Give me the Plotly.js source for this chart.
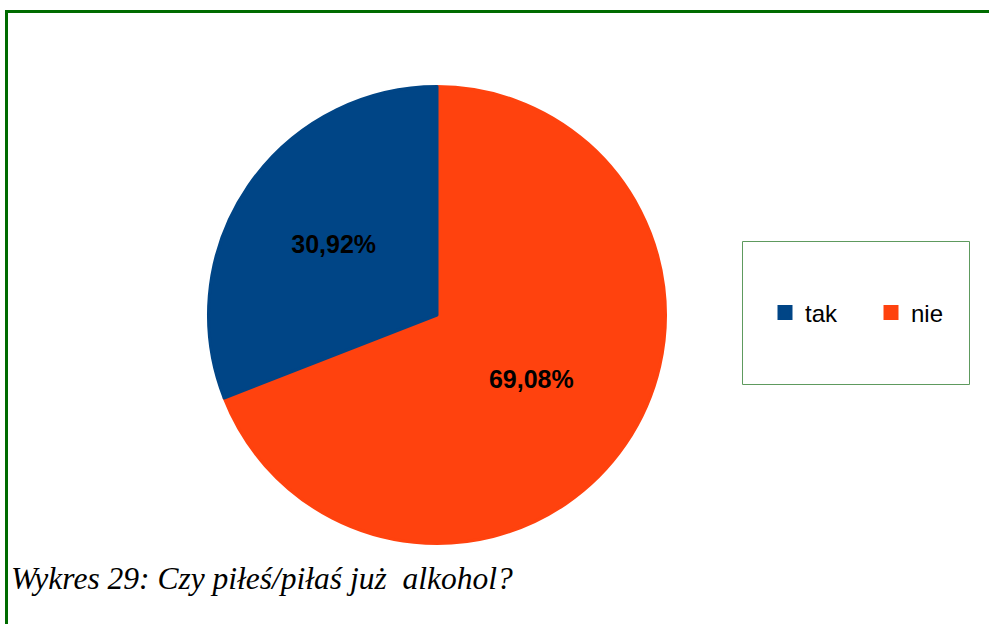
<!DOCTYPE html>
<html>
<head>
<meta charset="utf-8">
<script src="https://cdn.plot.ly/plotly-3.0.1.min.js"></script>
<style>html,body{margin:0;padding:0;background:#fff;overflow:hidden;width:989px;height:624px;}#chart{width:989px;height:624px;}</style>
</head>
<body>
<div id="chart"></div>
<script>
const categories = ["nie", "tak"];
const values = [69.08, 30.92];
const valueLabels = ["69,08%", "30,92%"];
const colors = ["#ff420e", "#004586"];
const caption = "Wykres 29: Czy piłeś/piłaś już  alkohol?";

const W = 989, H = 624;
const px = x => x / W;
const py = y => 1 - y / H;

const trace = {
  type: "pie",
  labels: categories,
  values: values,
  text: valueLabels,
  textinfo: "text",
  textposition: "inside",
  insidetextorientation: "horizontal",
  sort: false,
  direction: "clockwise",
  rotation: 0,
  marker: {colors: colors, line: {width: 3, color: colors}},
  textfont: {family: "Liberation Sans, Arial, sans-serif", size: 25, color: "#000", weight: "bold"},
  hoverinfo: "none",
  domain: {x: [px(208.5), px(665.5)], y: [py(543.5), py(86.5)]}
};

const layout = {
  autosize: false,
  width: W, height: H,
  margin: {l: 0, r: 0, t: 0, b: 0, autoexpand: false},
  paper_bgcolor: "#fff",
  plot_bgcolor: "#fff",
  showlegend: true,
  legend: {
    orientation: "h",
    traceorder: "reversed",
    x: px(765), y: py(313), xanchor: "left", yanchor: "middle",
    bgcolor: "rgba(0,0,0,0)", borderwidth: 0,
    font: {family: "Liberation Sans, Arial, sans-serif", size: 24, color: "#000"},
    entrywidth: 61, entrywidthmode: "pixels"
  },
  shapes: [
    {type: "line", xref: "paper", yref: "paper", x0: px(6.5), x1: px(6.5), y0: 0, y1: py(10), line: {color: "#006b00", width: 3}},
    {type: "line", xref: "paper", yref: "paper", x0: px(5), x1: 1, y0: py(11.5), y1: py(11.5), line: {color: "#006b00", width: 3}},
    {type: "rect", xref: "paper", yref: "paper", x0: px(742.5), x1: px(969.5), y0: py(241.5), y1: py(384.5), line: {color: "#5e9a5e", width: 1}, fillcolor: "rgba(0,0,0,0)"}
  ],
  annotations: [
    {xref: "paper", yref: "paper", x: px(9), y: py(578), xanchor: "left", yanchor: "middle", showarrow: false,
     text: caption, font: {family: "'Liberation Serif', 'Times New Roman', serif", size: 31.5, color: "#000", style: "italic"}}
  ]
};

Plotly.newPlot("chart", [trace], layout, {displayModeBar: false, staticPlot: true, responsive: false});
</script>
</body>
</html>
